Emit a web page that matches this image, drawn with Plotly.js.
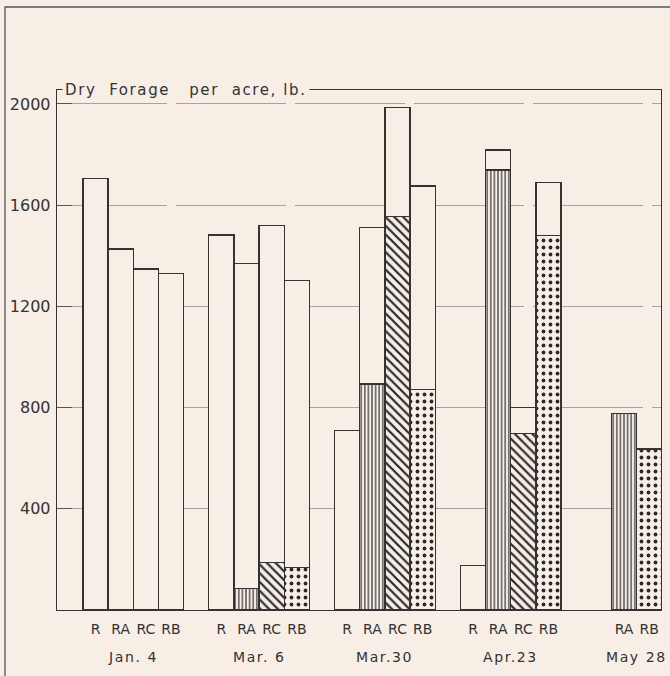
<!DOCTYPE html>
<html>
<head>
<meta charset="utf-8">
<script src="https://cdn.plot.ly/plotly-3.0.1.min.js"></script>
<style>
  html, body { margin: 0; padding: 0; background: #f7eee6; }
  #chart { width: 670px; height: 676px; }
  .annotation-text { letter-spacing: 1.6px; }
</style>
</head>
<body>
<div id="chart"></div>
<script>
// ---- data ----
const groups = ['Jan. 4', 'Mar. 6', 'Mar.30', 'Apr.23', 'May 28'];
const groupSlots = [
  ['R', 'RA', 'RC', 'RB'],
  ['R', 'RA', 'RC', 'RB'],
  ['R', 'RA', 'RC', 'RB'],
  ['R', 'RA', 'RC', 'RB'],
  ['R', 'RA', 'RB']
];
// total dry forage per acre (lb.)
const totalR  = [1705, 1482, 709, 175, null];
const totalRA = [1427, 1368, 1511, 1818, 777];
const totalRC = [1348, 1519, 1985, 801, null];
const totalRB = [1329, 1303, 1676, 1690, 636];
// shaded (hatched) portion of each bar (lb.)
const shadedR  = [0, 0, 0, 0, null];
const shadedRA = [0, 86, 893, 1739, 777];
const shadedRC = [0, 188, 1555, 698, null];
const shadedRB = [0, 167, 872, 1479, 636];
const yTicks = [400, 800, 1200, 1600, 2000];

// ---- styles ----
const BG = '#f7eee6';
const INK = '#333333';
const patShape = { R: '', RA: '|', RC: '\\', RB: '.' };
const patSize = { R: 4, RA: 3.6, RC: 6.2, RB: 7 };
const patSolid = { R: 0.3, RA: 0.32, RC: 0.36, RB: 0.24 };

const totals = { R: totalR, RA: totalRA, RC: totalRC, RB: totalRB };
const shaded = { R: shadedR, RA: shadedRA, RC: shadedRC, RB: shadedRB };
const slotsPerGroup = 5;

const xs = [], yBase = [], yTop = [], shapes = [], sizes = [], solids = [], tickText = [];
const annotations = [];
groups.forEach((g, gi) => {
  const present = [];
  groupSlots[gi].forEach((name, si) => {
    const tot = totals[name][gi];
    if (tot === null || tot === undefined) return;
    const x = gi * slotsPerGroup + si;
    const sh = shaded[name][gi] || 0;
    xs.push(x);
    yBase.push(sh);
    yTop.push(tot - sh);
    shapes.push(patShape[name]);
    sizes.push(patSize[name]);
    solids.push(patSolid[name]);
    tickText.push(name);
    present.push(x);
  });
  const cx = (Math.min(...present) + Math.max(...present)) / 2;
  annotations.push({
    x: cx, xref: 'x', y: -0.09, yref: 'paper',
    text: g, showarrow: false, xanchor: 'center', yanchor: 'middle',
    font: { family: 'DejaVu Sans', size: 14, color: INK }
  });
});

annotations.push({
  x: 0.008, xref: 'paper', y: 1, yref: 'paper',
  text: 'Dry\u00a0\u00a0Forage\u00a0\u00a0\u00a0per\u00a0\u00a0acre,\u00a0lb.',
  showarrow: false, xanchor: 'left', yanchor: 'middle',
  bgcolor: BG, borderpad: 2,
  font: { family: 'DejaVu Sans', size: 15, color: INK }
});

const traceBase = {
  type: 'bar', x: xs, y: yBase, width: 1,
  marker: {
    color: BG,
    line: { color: INK, width: 1.2 },
    pattern: { shape: shapes, size: sizes, solidity: solids, fgcolor: '#2a2a2a', bgcolor: BG, fillmode: 'replace' }
  },
  hoverinfo: 'skip', showlegend: false
};
const traceTop = {
  type: 'bar', x: xs, y: yTop, width: 1,
  marker: { color: BG, line: { color: INK, width: 1.2 } },
  hoverinfo: 'skip', showlegend: false
};

const layout = {
  width: 670, height: 676,
  paper_bgcolor: BG, plot_bgcolor: BG,
  margin: { l: 57, r: 9, t: 90, b: 66 },
  barmode: 'stack', bargap: 0,
  font: { family: 'DejaVu Sans', color: INK },
  xaxis: {
    range: [-1.53, 22.47],
    showgrid: false, zeroline: false,
    showline: true, linecolor: INK, linewidth: 1.3, mirror: true,
    tickmode: 'array', tickvals: xs, ticktext: tickText,
    ticks: '', ticklabelstandoff: 6,
    tickfont: { family: 'DejaVu Sans', size: 14, color: INK }
  },
  yaxis: {
    range: [0, 2055],
    showline: true, linecolor: INK, linewidth: 1.3, mirror: true,
    zeroline: false,
    tickmode: 'array', tickvals: yTicks,
    ticks: 'inside', ticklen: 15, tickcolor: '#555', tickwidth: 1,
    showgrid: true, gridcolor: '#a3a3a3', gridwidth: 1, griddash: '110px,9px',
    tickfont: { family: 'DejaVu Sans', size: 16, color: INK },
    ticklabelstandoff: 2
  },
  annotations: annotations,
  shapes: [{
    type: 'rect', xref: 'paper', yref: 'paper',
    x0: -0.0861, x1: 1.2, y0: -0.3, y1: 1.1596,
    line: { color: '#555', width: 1.3 }, fillcolor: 'rgba(0,0,0,0)', layer: 'below'
  }]
};

Plotly.newPlot('chart', [traceBase, traceTop], layout, { staticPlot: true, displayModeBar: false });
</script>
</body>
</html>
